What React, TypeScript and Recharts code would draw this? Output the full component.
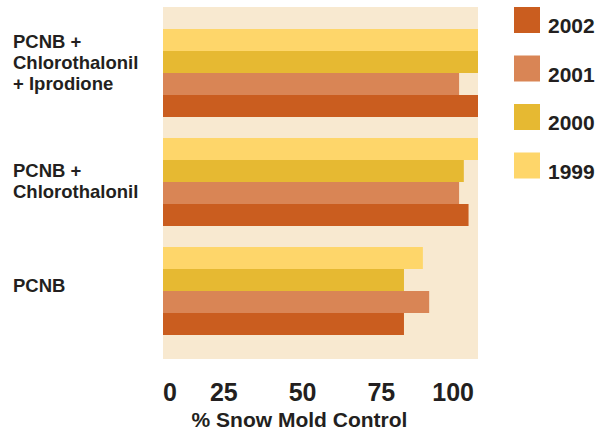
import React from 'react';
import { BarChart, Bar, XAxis, YAxis, CartesianGrid } from 'recharts';

// Treatment groups, top to bottom (line breaks are drawn as separate tspans)
const treatments = [
  'PCNB +\nChlorothalonil\n+ Iprodione',
  'PCNB +\nChlorothalonil',
  'PCNB',
];

// % snow mold control per season
const control1999 = [100, 100, 82.5];
const control2000 = [100, 95.5, 76.5];
const control2001 = [94, 94, 84.5];
const control2002 = [100, 97, 76.5];

const xTicks = [0, 25, 50, 75, 100];

const series = [
  { key: '1999', values: control1999, color: '#FED66A' },
  { key: '2000', values: control2000, color: '#E6B932' },
  { key: '2001', values: control2001, color: '#D98555' },
  { key: '2002', values: control2002, color: '#CA5D1F' },
];

const rows = treatments.map((name, i) => {
  const row: Record<string, string | number> = { name };
  series.forEach((s) => {
    row[s.key] = s.values[i];
  });
  return row;
});

const FONT = '"Liberation Sans", Arial, Helvetica, sans-serif';
const INK = '#231F20';

// Multi-line treatment names on the left
const TreatmentTick = (props: any) => {
  const { y, payload } = props;
  const lines = String(payload.value).split('\n');
  const lineH = 21;
  // nudge the blocks up a bit depending on how tall they are
  const lift = lines.length === 3 ? -9.5 : lines.length === 1 ? -4.5 : 0;
  const first = y + 6.5 - ((lines.length - 1) * lineH) / 2 + lift;
  return (
    <text x={13} y={first} fill={INK} fontFamily={FONT} fontWeight="bold" fontSize={18.5}>
      {lines.map((ln, i) => (
        <tspan key={i} x={13} y={first + i * lineH}>
          {ln}
        </tspan>
      ))}
    </text>
  );
};

const PercentTick = (props: any) => {
  const { x, y, payload } = props;
  const isZero = payload.value === 0;
  return (
    <text
      x={isZero ? x : x - 4}
      y={y + 34}
      textAnchor={isZero ? 'start' : 'end'}
      fill={INK}
      fontFamily={FONT}
      fontWeight="bold"
      fontSize={25}
    >
      {payload.value}
    </text>
  );
};

const AxisTitle = (props: any) => {
  const { viewBox } = props;
  return (
    <text
      x={viewBox.x + viewBox.width / 2 - 21}
      y={viewBox.y + viewBox.height - 3}
      textAnchor="middle"
      fill={INK}
      fontFamily={FONT}
      fontWeight="bold"
      fontSize={21}
    >
      % Snow Mold Control
    </text>
  );
};

const YearLegend = () => (
  <svg
    width={127}
    height={190}
    style={{ position: 'absolute', left: 480, top: 0 }}
  >
    {[...series].reverse().map((s, i) => (
      <g key={s.key}>
        <rect x={34} y={7 + i * 48.5} width={26} height={26} fill={s.color} />
        <text
          x={68}
          y={33 + i * 48.5}
          fill={INK}
          fontFamily={FONT}
          fontWeight="bold"
          fontSize={21}
        >
          {s.key}
        </text>
      </g>
    ))}
  </svg>
);

export default function App() {
  return (
    <div style={{ position: 'absolute', left: 0, top: 0, width: 607, height: 430, background: '#fff' }}>
      <BarChart
        width={607}
        height={430}
        data={rows}
        layout="vertical"
        margin={{ top: 7, right: 129, left: 0, bottom: 0 }}
        barCategoryGap={11.5}
        barGap={0}
      >
        <CartesianGrid fill="#F8E9D0" horizontal={false} vertical={false} stroke="none" />
        <XAxis
          type="number"
          domain={[0, 100]}
          ticks={xTicks}
          height={71}
          axisLine={false}
          tickLine={false}
          tick={<PercentTick />}
          label={{ content: <AxisTitle /> }}
        />
        <YAxis
          type="category"
          dataKey="name"
          width={163}
          padding={{ top: 10.5, bottom: 14.5 }}
          axisLine={false}
          tickLine={false}
          tick={<TreatmentTick />}
        />
        {series.map((s) => (
          <Bar key={s.key} dataKey={s.key} fill={s.color} isAnimationActive={false} />
        ))}
      </BarChart>
      <YearLegend />
    </div>
  );
}
